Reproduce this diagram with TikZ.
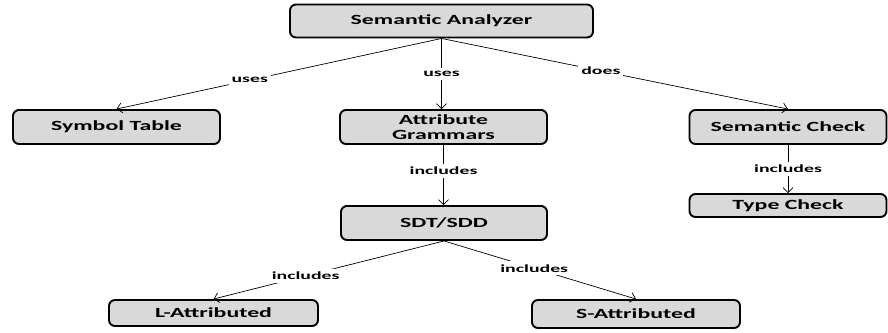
\documentclass[tikz,border=0pt]{standalone}
\usepackage{fontspec}
\setmainfont{Carlito}
\newfontfamily\boxfont{Carlito}[FakeStretch=1.7]
\newfontfamily\linkfont{Carlito}[FakeStretch=1.8]
\usetikzlibrary{arrows.meta}
\begin{document}
\begin{tikzpicture}[x=1pt,y=-1pt,
  box/.style={draw=black, line width=1.9pt, rounded corners=6pt, fill=black!15,
    align=center, inner sep=1pt, font=\boxfont\bfseries\fontsize{14}{15}\selectfont},
  link/.style={draw=black, line width=0.7pt, -{Straight Barb[length=5pt,width=10pt]}},
  tag/.style={fill=white, inner sep=3pt, font=\linkfont\bfseries\fontsize{11}{11}\selectfont}]
  \useasboundingbox (0,0) rectangle (888,332);

  % boxes
  \node[box, minimum width=303pt, minimum height=33pt] (an) at (441.5,21) {Semantic Analyzer};
  \node[box, minimum width=207pt, minimum height=34pt] (st) at (116.5,127) {Symbol Table};
  \node[box, minimum width=207pt, minimum height=34pt] (ag) at (443.5,127) {Attribute\\Grammars};
  \node[box, minimum width=197pt, minimum height=34pt] (sc) at (788,127) {Semantic Check};
  \node[box, minimum width=197pt, minimum height=23pt] (tc) at (788,205.5) {Type Check};
  \node[box, minimum width=206pt, minimum height=34pt] (sd) at (444,223) {SDT/SDD};
  \node[box, minimum width=209pt, minimum height=26pt] (la) at (213.5,313) {L-Attributed};
  \node[box, minimum width=208pt, minimum height=28pt] (sa) at (636,314) {S-Attributed};

  % connectors
  \draw[link] (an.south) -- node[tag, pos=0.59] {uses} (st.north);
  \draw[link] (an.south) -- node[tag, pos=0.5] {uses} (an.south |- ag.north);
  \draw[link] (an.south) -- node[tag, pos=0.46] {does} (sc.north);
  \draw[link] (ag.south) -- node[tag, pos=0.43] {includes} (ag.south |- sd.north);
  \draw[link] (sc.south) -- node[tag, pos=0.5] {includes} (tc.north);
  \draw[link] (sd.south) -- node[tag, pos=0.6] {includes} (la.north);
  \draw[link] (sd.south) -- node[tag, pos=0.47] {includes} (sa.north);
\end{tikzpicture}
\end{document}
